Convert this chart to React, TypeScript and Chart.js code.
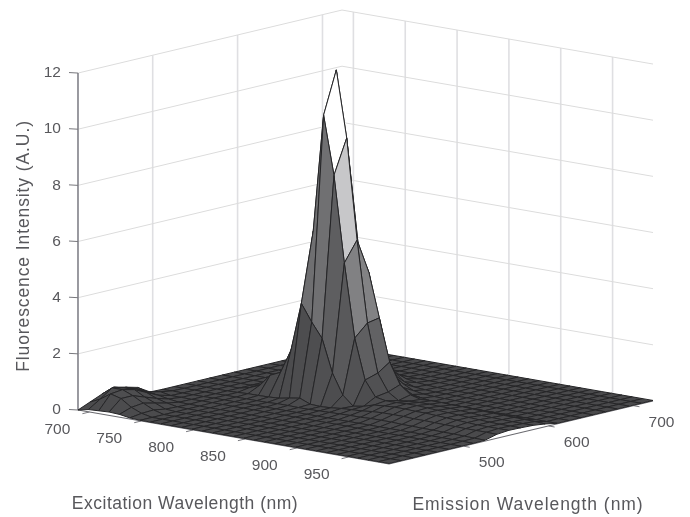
import React, { useEffect, useRef } from "react";
import { Chart, registerables } from "chart.js";

Chart.register(...registerables);

const excitationNm = [689,699,709,719,729,739,749,759,769,779,789,799,809,819,829,839,849,859,869,879,889,899,909,919,929,939,949,959,969,979,989];
const emissionNm = [723,709,695,681,667,652,638,624,610,596,582,567,553,539,525,511,497,482,468,454,440,426,412];

// intensity[excitation index][emission index]
const intensity: number[][] = [
  [.02,.02,.02,.02,.02,.02,.02,.02,.02,.02,.02,.02,.02,.02,.02,.02,.03,.3,.41,.51,.36,.18,0],
  [.02,.02,.02,.02,.02,.02,.02,.02,.02,.02,.02,.02,.02,.02,.02,.03,.1,.2,.42,.55,.65,.35,.08],
  [.02,.02,.02,.02,.02,.02,.02,.02,.02,.02,.02,.02,.02,.02,.02,.02,.03,.15,.35,.55,.65,.6,.1],
  [.02,.02,.02,.02,.02,.02,.02,.02,.02,.02,.02,.02,.02,.02,.02,.02,.03,.08,.2,.35,.5,.5,.12],
  [.02,.02,.02,.02,.02,.02,.02,.02,.02,.02,.02,.02,.02,.02,.02,.02,.02,.03,.1,.2,.3,.25,.1],
  [.02,.02,.02,.02,.02,.02,.03,.03,.05,.08,.15,.1,.1,.03,.03,.03,.03,.02,.03,.05,.12,.1,.04],
  [.02,.02,.02,.02,.02,.02,.05,.1,.15,.2,.4,.2,.25,.05,.03,.03,.03,.02,.02,.02,.02,.02,.02],
  [.02,.02,.02,.02,.02,.03,.1,.2,.3,.5,.9,.5,.67,.05,.03,.03,.03,.02,.02,.02,.02,.02,.02],
  [.02,.02,.02,.02,.03,.05,.2,.6,1,1.5,2,1.5,.84,.06,.03,.03,.03,.02,.02,.02,.02,.02,.02],
  [.02,.02,.02,.02,.03,.1,.4,1,2,3,4,3,1.69,.08,.03,.03,.03,.02,.02,.02,.02,.02,.02],
  [.02,.02,.02,.02,.04,.15,.6,1.5,3,5,6.5,5.9,3.42,.15,.05,.03,.03,.02,.02,.02,.02,.02,.02],
  [.02,.02,.02,.02,.05,.25,1,2.5,4.5,7.5,11.59,10.09,2.82,.21,.05,.03,.03,.02,.02,.02,.02,.02,.02],
  [.02,.02,.02,.02,.04,.15,.5,1.5,3.3,5.2,9.23,8.01,2.3,.06,.04,.03,.03,.02,.02,.02,.02,.02,.02],
  [.02,.02,.02,.02,.03,.08,.2,.6,2.1,4.4,5.66,4.95,1.13,.04,.04,.03,.03,.02,.02,.02,.02,.02,.02],
  [.02,.02,.02,.02,.03,.05,.08,.3,.8,2.85,2.77,2.34,.41,.06,.05,.03,.03,.02,.02,.02,.02,.02,.02],
  [.02,.02,.02,.02,.02,.03,.05,.12,.35,1.34,1.05,.91,.08,.1,.06,.03,.03,.02,.02,.02,.02,.02,.02],
  [.02,.02,.02,.02,.02,.02,.03,.06,.15,.6,.44,.37,.14,.12,.07,.03,.03,.02,.02,.02,.02,.02,.02],
  [.02,.02,.02,.02,.02,.02,.03,.04,.08,.3,.2,.3,.25,.14,.08,.03,.03,.02,.02,.02,.02,.02,.02],
  [.02,.02,.02,.02,.02,.02,.02,.03,.03,.2,.24,.3,.28,.18,.08,.03,.03,.02,.02,.02,.02,.02,.02],
  [.02,.02,.02,.02,.02,.02,.02,.02,.02,.22,.26,.32,.3,.2,.1,.03,.03,.02,.02,.02,.02,.02,.02],
  [.02,.02,.02,.02,.02,.02,.02,.02,.02,.22,.26,.32,.3,.2,.1,.03,.02,.02,.02,.02,.02,.02,.02],
  [.02,.02,.02,.02,.02,.02,.02,.02,.02,.2,.25,.3,.28,.2,.1,.03,.02,.02,.02,.02,.02,.02,.02],
  [.02,.02,.02,.02,.02,.02,.02,.02,.02,.2,.24,.28,.28,.18,.08,.03,.02,.02,.02,.02,.02,.02,.02],
  [.02,.02,.02,.02,.02,.02,.02,.02,.02,.18,.22,.26,.26,.18,.08,.03,.02,.02,.02,.02,.02,.02,.02],
  [.02,.02,.02,.02,.02,.02,.02,.02,.02,.17,.2,.24,.24,.17,.07,.03,.02,.02,.02,.02,.02,.02,.02],
  [.02,.02,.02,.02,.02,.02,.02,.02,.02,.16,.18,.22,.22,.16,.07,.03,.02,.02,.02,.02,.02,.02,.02],
  [.02,.02,.02,.02,.02,.02,.02,.02,.02,.15,.17,.2,.2,.16,.06,.03,.02,.02,.02,.02,.02,.02,.02],
  [.02,.02,.02,.02,.02,.02,.02,.02,.02,.14,.16,.18,.18,.15,.06,.03,.02,.02,.02,.02,.02,.02,.02],
  [.02,.02,.02,.02,.02,.02,.02,.02,.02,.13,.15,.17,.18,.15,.05,.03,.02,.02,.02,.02,.02,.02,.02],
  [.02,.02,.02,.02,.02,.02,.02,.02,.02,.12,.15,.17,.18,.15,.04,.03,.02,.02,.02,.02,.02,.02,.02],
  [.02,.02,.02,.02,.02,.02,.02,.02,.02,.1,.15,.17,.18,.14,.03,.02,.02,.02,.02,.02,.02,.02,.02],
];

const zTicks = [0, 2, 4, 6, 8, 10, 12];
const excitationTicks = [700, 750, 800, 850, 900, 950];
const emissionTicks = [500, 600, 700];

const W = 690;
const H = 517;
const EX_MIN = excitationNm[0];
const EX_MAX = excitationNm[excitationNm.length - 1];
const EM_MAX = emissionNm[0];
const EM_MIN = emissionNm[emissionNm.length - 1];
const Z_TOP = zTicks[zTicks.length - 1];

type Pt = { x: number; y: number };
function project(ex: number, em: number, z: number): Pt {
  const e = ex - EX_MIN;
  const m = EM_MAX - em;
  return {
    x: 342 + 1.0367 * e - 0.8489 * m,
    y: 347 + 0.18 * e + 0.2026 * m - 28.08 * z,
  };
}

function faceColor(i: number, j: number): string {
  const a = intensity[i][j], b = intensity[i + 1][j], c = intensity[i + 1][j + 1], d = intensity[i][j + 1];
  const mean = (a + b + c + d) / 4;
  const slopeToViewer = (a + b - c - d) / 2;
  const slopeToRight = (a + d - b - c) / 2;
  const raw = 74 + 4 * mean + 1.75 * mean * mean
    - 8 * Math.max(0, slopeToViewer) * Math.min(1, mean / 4)
    + 6 * Math.max(0, slopeToRight);
  const v = Math.round(Math.max(72, Math.min(255, raw)));
  return `rgb(${v},${v},${Math.min(255, v + 2)})`;
}

function segment(points: Pt[], color: string, width: number, order: number) {
  return {
    data: points,
    showLine: true,
    pointRadius: 0,
    borderColor: color,
    borderWidth: width,
    fill: false,
    order,
  };
}

function buildDatasets() {
  const sets: any[] = [];
  const GRID = "#dfdfe2";
  // back walls
  for (const z of zTicks) {
    if (z > 0) {
      sets.push(segment([project(EX_MIN, EM_MIN, z), project(EX_MIN, EM_MAX, z), project(EX_MAX, EM_MAX, z)], "#dcdcdc", 1, 5000));
    }
  }
  for (const em of emissionTicks) {
    sets.push(segment([project(EX_MIN, em, 0), project(EX_MIN, em, Z_TOP)], GRID, 1.6, 5000));
  }
  for (const ex of excitationTicks) {
    sets.push(segment([project(ex, EM_MAX, 0), project(ex, EM_MAX, Z_TOP)], GRID, 1.6, 5000));
  }
  // z axis and ticks
  sets.push(segment([project(EX_MIN, EM_MIN, 0), project(EX_MIN, EM_MIN, Z_TOP)], "#8f8f96", 1.8, 4000));
  for (const z of zTicks) {
    const p = project(EX_MIN, EM_MIN, z);
    sets.push(segment([{ x: p.x - 9, y: p.y - 0.5 }, p], "#77777c", 1, 3999));
  }
  // floor axes and ticks
  sets.push(segment([project(EX_MIN, EM_MIN, 0), project(EX_MAX, EM_MIN, 0), project(EX_MAX, EM_MAX, 0)], "#6a6a6f", 1.2, 3998));
  for (const ex of excitationTicks) {
    const p = project(ex, EM_MIN, 0);
    sets.push(segment([p, { x: p.x - 7, y: p.y + 1.7 }], "#77777c", 1, 3998));
  }
  for (const em of emissionTicks) {
    const p = project(EX_MAX, em, 0);
    sets.push(segment([p, { x: p.x + 6, y: p.y + 1.1 }], "#77777c", 1, 3998));
  }
  // surface quads, painted from the back corner to the front corner
  for (let i = 0; i < excitationNm.length - 1; i++) {
    for (let j = 0; j < emissionNm.length - 1; j++) {
      const p = (a: number, b: number) => project(excitationNm[a], emissionNm[b], intensity[a][b]);
      const first = p(i, j);
      sets.push({
        data: [first, p(i + 1, j), p(i + 1, j + 1), p(i, j + 1), first],
        showLine: true,
        pointRadius: 0,
        borderColor: "#252527",
        borderWidth: 1,
        borderJoinStyle: "round",
        backgroundColor: faceColor(i, j),
        fill: "shape",
        order: 3000 - (i + j),
      });
    }
  }
  return sets;
}

const labelPlugin = {
  id: "axisText",
  afterDraw(chart: any) {
    const { ctx, scales } = chart;
    const put = (p: Pt, dx: number, dy: number, s: string, align: CanvasTextAlign) => {
      ctx.textAlign = align;
      ctx.fillText(s, scales.x.getPixelForValue(p.x) + dx, scales.y.getPixelForValue(p.y) + dy);
    };
    ctx.save();
    ctx.fillStyle = "#58585c";
    ctx.textBaseline = "middle";
    ctx.font = '15.5px "Liberation Sans", Arial, sans-serif';
    for (const z of zTicks) put(project(EX_MIN, EM_MIN, z), -17, 0, String(z), "right");
    for (const ex of excitationTicks) put(project(ex, EM_MIN, 0), -32, 17.5, String(ex), "center");
    for (const em of emissionTicks) put(project(EX_MAX, em, 0), 28, 17, String(em), "center");
    ctx.font = '17.5px "Liberation Sans", Arial, sans-serif';
    ctx.textAlign = "center";
    ctx.letterSpacing = "0.5px";
    ctx.fillText("Excitation Wavelength (nm)", 185, 504);
    ctx.letterSpacing = "0.95px";
    ctx.fillText("Emission Wavelength (nm)", 528, 505);
    ctx.letterSpacing = "0.9px";
    ctx.translate(24, 246);
    ctx.rotate(-Math.PI / 2);
    ctx.fillText("Fluorescence Intensity (A.U.)", 0, 0);
    ctx.restore();
  },
};

export default function App() {
  const ref = useRef<HTMLCanvasElement>(null);
  useEffect(() => {
    const chart = new Chart(ref.current!, {
      type: "scatter",
      data: { datasets: buildDatasets() as any },
      options: {
        animation: false,
        responsive: false,
        events: [],
        layout: { padding: 0 },
        plugins: { legend: { display: false }, tooltip: { enabled: false } },
        scales: {
          x: { type: "linear", display: false, min: 0, max: W },
          y: { type: "linear", display: false, min: 0, max: H, reverse: true },
        },
      },
      plugins: [labelPlugin],
    });
    return () => chart.destroy();
  }, []);
  return (
    <div style={{ position: "absolute", left: 0, top: 0, width: W, height: H, background: "#fff", overflow: "hidden" }}>
      <canvas ref={ref} width={W} height={H} style={{ display: "block", filter: "blur(0.45px)" }} />
    </div>
  );
}
